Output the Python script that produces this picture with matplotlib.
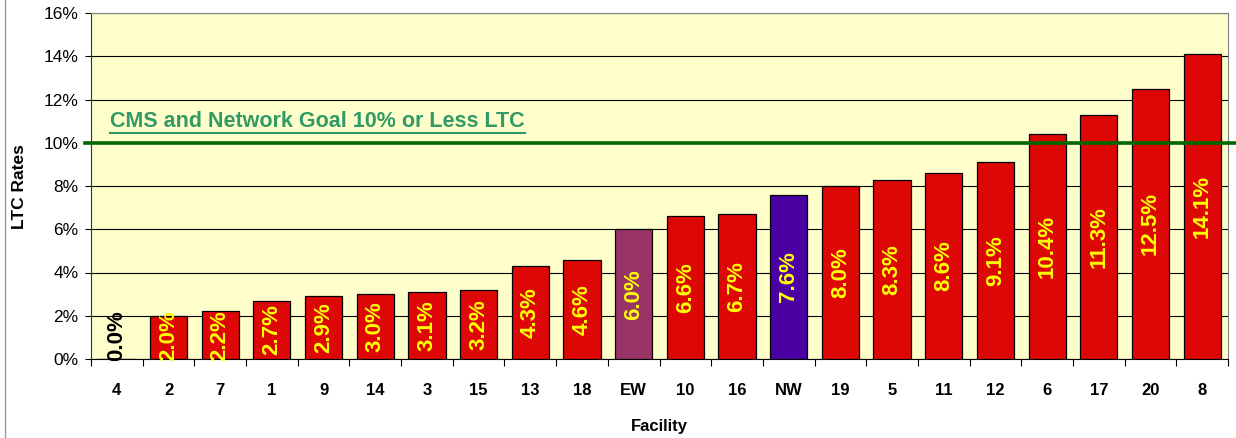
import matplotlib
matplotlib.use("Agg")
import matplotlib.pyplot as plt
from matplotlib.lines import Line2D

plt.rcParams["font.family"] = ["Liberation Sans", "DejaVu Sans"]

# LTC rate per facility (%), sorted as in the chart
facilities = ["4", "2", "7", "1", "9", "14", "3", "15", "13", "18", "EW",
              "10", "16", "NW", "19", "5", "11", "12", "6", "17", "20", "8"]
rates = [0.0, 2.0, 2.2, 2.7, 2.9, 3.0, 3.1, 3.2, 4.3, 4.6, 6.0,
         6.6, 6.7, 7.6, 8.0, 8.3, 8.6, 9.1, 10.4, 11.3, 12.5, 14.1]
goal = 10.0
goal_text = "CMS and Network Goal 10% or Less LTC"

RED = "#DD0806"
special = {"EW": "#993366", "NW": "#4B00A3"}


def main():
    fig = plt.figure(figsize=(12.36, 4.38), dpi=100)
    ax = fig.add_axes([91 / 1236, 79 / 438, 1137 / 1236, 346 / 438])
    ax.set_facecolor("#FFFFCC")

    x = list(range(len(facilities)))
    colors = [special.get(f, RED) for f in facilities]
    ax.bar(x, rates, width=0.72, color=colors, edgecolor="black", linewidth=0.9, zorder=3)

    # value labels, rotated, roughly centred but kept off the axis
    for xi, v in zip(x, rates):
        col = "black" if v == 0 else "#FFFF00"
        ax.text(xi, max(v / 2, 1.1), f"{v:.1f}%", rotation=90, ha="center", va="center",
                color=col, fontsize=16, fontweight="bold", zorder=4)

    ax.set_ylim(0, 16)
    ax.set_xlim(-0.5, len(facilities) - 0.5)
    ax.set_yticks(range(0, 17, 2))
    ax.set_yticklabels([f"{t}%" for t in range(0, 17, 2)], fontsize=12.5)
    ax.yaxis.grid(True, color="black", linewidth=0.8, zorder=1)
    ax.set_axisbelow(True)

    # ticks between categories, labels in the middle
    ax.set_xticks([i - 0.5 for i in range(len(facilities) + 1)])
    ax.set_xticklabels([])
    ax.set_xticks(x, minor=True)
    ax.set_xticklabels(facilities, minor=True, fontsize=12, fontweight="bold")
    ax.tick_params(axis="x", which="major", length=5, direction="out", width=0.8)
    ax.tick_params(axis="x", which="minor", length=0, pad=17)
    ax.tick_params(axis="y", length=4, width=0.8, pad=5)

    for s in ["top", "right"]:
        ax.spines[s].set_color("#808080")
    ax.spines["left"].set_color("#333333")
    ax.spines["bottom"].set_color("black")

    # goal line, running slightly past the plot area
    ax.axhline(goal, xmin=-0.005, xmax=1.01, color="#006600", linewidth=2.6,
               clip_on=False, zorder=5)
    t = ax.text(0.017, 10.5, goal_text, transform=ax.get_yaxis_transform(),
                color="#339966", fontsize=15.5, fontweight="bold", va="bottom", zorder=5)
    fig.canvas.draw()
    bb = t.get_window_extent().transformed(fig.transFigure.inverted())
    fig.add_artist(Line2D([bb.x0, bb.x1], [bb.y0 - 0.002, bb.y0 - 0.002],
                          transform=fig.transFigure, color="#339966", linewidth=1.5))

    fig.text(20 / 1236, 1 - 187 / 438, "LTC Rates", rotation=90, ha="center", va="center",
             fontsize=12.5, fontweight="bold")
    fig.text(659.5 / 1236, 1 - 427 / 438, "Facility", ha="center", va="center",
             fontsize=12, fontweight="bold")

    # thin frame edge seen on the left of the original
    fig.add_artist(Line2D([5 / 1236, 5 / 1236], [0, 1], transform=fig.transFigure,
                          color="#999999", linewidth=1.0))

    fig.savefig("out.png", dpi=100)
    plt.close(fig)


if __name__ == "__main__":
    main()
